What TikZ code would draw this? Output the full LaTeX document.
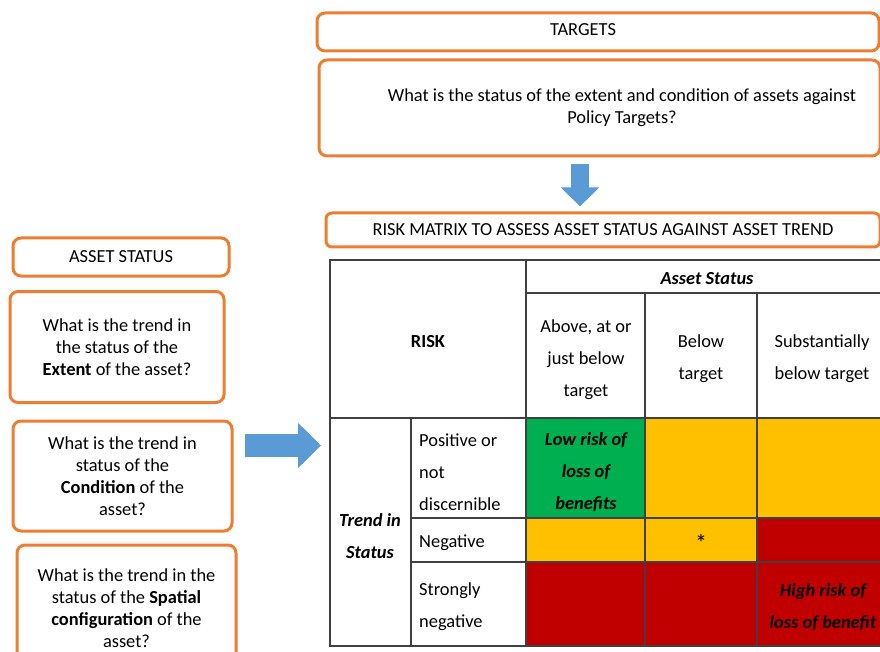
\documentclass[tikz,border=0pt]{standalone}
\usepackage{fontspec}
\setmainfont{Carlito}
\usepackage{tikz}
\usetikzlibrary{arrows.meta, calc}

\definecolor{boxorange}{HTML}{ED7D31}
\definecolor{arrowblue}{HTML}{5B9BD5}
\definecolor{riskgreen}{HTML}{00B050}
\definecolor{riskamber}{HTML}{FFC000}
\definecolor{riskred}{HTML}{C00000}
\definecolor{gridgray}{HTML}{404040}

\begin{document}
\begin{tikzpicture}[x=1pt, y=-1pt,
    obox/.style={draw=boxorange, line width=3pt, rounded corners=8pt, inner sep=0pt},
    boxtext/.style={font=\fontsize{18.4}{22}\selectfont, align=center},
    celltext/.style={font=\fontsize{18.4}{32}\selectfont, align=center, inner sep=0pt},
    boldcell/.style={celltext, font=\fontsize{18.4}{32}\selectfont\bfseries\itshape},
    rowtext/.style={celltext, align=left, anchor=west},
    gridline/.style={draw=gridgray, line width=1.3pt},
    downarrow/.style={arrowblue, line width=18pt, -{Triangle[length=19pt, width=37pt]}},
    rightarrow/.style={arrowblue, line width=23pt, -{Triangle[length=23pt, width=44pt]}}]
  \useasboundingbox (0,0) rectangle (880,652);

  % Targets
  \node[obox, minimum width=562pt, minimum height=38pt] (targets) at (598,32) {};
  \node[boxtext] (targetslabel) at (583,30) {TARGETS};
  \node[obox, minimum width=561pt, minimum height=96pt] (policy) at (599.5,108) {};
  \node[boxtext] (policylabel) at (622,108)
    {What is the status of the extent and condition of assets against\\Policy Targets?};

  % Risk matrix title
  \node[obox, rounded corners=6pt, minimum width=554pt, minimum height=34pt, boxtext]
    (riskbar) at (603,230) {RISK MATRIX TO ASSESS ASSET STATUS AGAINST ASSET TREND};

  % Asset status column
  \node[obox, minimum width=216pt, minimum height=38pt, boxtext]
    (assetstatus) at (121,257) {ASSET STATUS};
  \node[obox, minimum width=214pt, minimum height=111pt, boxtext]
    (extent) at (117,347) {What is the trend in\\the status of the\\\textbf{Extent} of the asset?};
  \node[obox, minimum width=219pt, minimum height=110pt, boxtext]
    (condition) at (122.5,476) {What is the trend in\\status of the\\\textbf{Condition} of the\\asset?};
  \node[obox, minimum width=219pt, minimum height=127pt, boxtext]
    (spatial) at (126.5,608.5)
    {What is the trend in the\\status of the \textbf{Spatial}\\\textbf{configuration} of the\\asset?};

  % Matrix cells
  \fill[riskgreen] (526,418) rectangle (645,518);
  \fill[riskamber] (645,418) rectangle (890,518);
  \fill[riskamber] (526,518) rectangle (757,562);
  \fill[riskred] (757,518) rectangle (890,562);
  \fill[riskred] (526,562) rectangle (890,646);

  % Matrix grid
  \coordinate (tabNW) at (330,260);
  \draw[gridline] (tabNW) rectangle (890,646);
  \draw[gridline] (526,260) -- (526,646);
  \draw[gridline] (526,293) -- (890,293);
  \foreach \colx in {645,757}
    \draw[gridline] (\colx,293) -- (\colx,646);
  \draw[gridline] (330,418) -- (890,418);
  \draw[gridline] (411,418) -- (411,646);
  \foreach \rowy in {518,562}
    \draw[gridline] (411,\rowy) -- (890,\rowy);

  % Matrix headings
  \node[boldcell] (statushead) at (707,279) {Asset Status};
  \node[celltext, font=\fontsize{18.4}{32}\selectfont\bfseries] (riskhead) at (428,342) {RISK};
  \node[celltext] (colabove) at (586,360) {Above, at or\\just below\\target};
  \node[celltext] (colbelow) at (701,359) {Below\\target};
  \node[celltext] (colsubst) at (822,359) {Substantially\\below target};
  \node[boldcell] (trendhead) at (370,536) {Trend in\\Status};
  \node[rowtext] (rowpos) at (419,472) {Positive or\\not\\discernible};
  \node[rowtext] (rowneg) at (419,543) {Negative};
  \node[rowtext] (rowstrong) at (419,607) {Strongly\\negative};

  % Matrix entries
  \node[boldcell] (lowrisk) at (586,472) {Low risk of\\loss of\\benefits};
  \node[celltext, font=\fontsize{24}{32}\selectfont] (midrisk) at (701,543) {*};
  \node[boldcell] (highrisk) at (823,607) {High risk of\\loss of benefit};

  % Block arrows
  \coordinate (downstart) at ($(policy.south)+(-19.5,0)$);
  \draw[downarrow, shorten <=7pt, shorten >=5pt] (downstart) -- (downstart |- riskbar.north);
  \coordinate (rightstart) at ($(condition.east)+(0,-30.5)$);
  \draw[rightarrow, shorten <=11pt, shorten >=9pt] (rightstart) -- (rightstart -| tabNW);
\end{tikzpicture}
\end{document}
